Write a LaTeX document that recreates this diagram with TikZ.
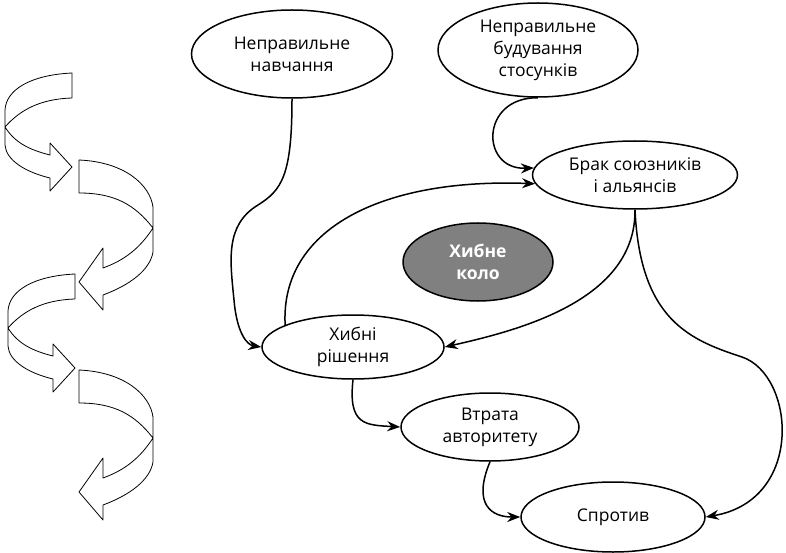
\documentclass[tikz,border=0pt]{standalone}
\usepackage{fontspec}
\setmainfont{Open Sans}
\usepackage{tikz}
\usetikzlibrary{arrows.meta}
\usetikzlibrary{shapes.geometric}
\definecolor{grey-fill}{RGB}{128,128,128}

\begin{document}
\begin{tikzpicture}[x=1pt, y=-1pt, >={Stealth[length=13pt,width=10pt]},
  oval/.style={ellipse, draw, line width=1.5pt, align=center, inner sep=0pt},
  link/.style={->, line width=1.5pt},
  turn/.style={draw, line width=0.8pt, fill=white, line join=round}]
\fontsize{17.5}{22}\selectfont
\useasboundingbox (0,0) rectangle (786,553);

% the twisting arrows on the left
\foreach \dx/\dy in {0/0, 3/201} {
\draw [turn, shift={(\dx,\dy)}] (72,73) .. controls (30,75) and (6,90) .. (5,110) -- (5,145)
  .. controls (6,160) and (25,172) .. (50,178) -- (50,191) -- (72,167) -- (50,143) -- (50,155)
  .. controls (30,150) and (15,143) .. (5,127) .. controls (20,110) and (40,99) .. (72,98) -- cycle;
}
\foreach \dy in {0, 210} {
\draw [turn, shift={(0,\dy)}] (79,160) .. controls (125,162) and (150,185) .. (153,207) -- (153,252)
  .. controls (150,270) and (130,285) .. (103,295) -- (103,310) -- (79,282) -- (103,248) -- (103,268)
  .. controls (125,260) and (140,248) .. (153,228) .. controls (135,205) and (115,193) .. (79,193) -- cycle;
}

% the circle of causes
\node [oval, minimum width=201, minimum height=88] (ntrain) at (292,54) {Неправильне\\навчання};
\node [oval, minimum width=200, minimum height=94] (nrel) at (538,50) {Неправильне\\будування\\стосунків};
\node [oval, minimum width=205, minimum height=68] (lack) at (635,175) {Брак союзників\\і альянсів};
\node [oval, fill=grey-fill, text=white, font=\bfseries, minimum width=150, minimum height=78] (vicious) at (478,262) {Хибне\\коло};
\node [oval, minimum width=182, minimum height=64] (badsol) at (353,347) {Хибні\\рішення};
\node [oval, minimum width=178, minimum height=68] (authority) at (490,427) {Втрата\\авторитету};
\node [oval, minimum width=184, minimum height=70] (resist) at (613,517) {Спротив};

\draw [link] (ntrain.south) .. controls (292,175) and (282,190) .. (258,205)
  .. controls (225,225) and (230,260) .. (234,300) .. controls (237,335) and (248,345) .. (badsol.west);
\draw [link] (badsol.162) .. controls (280,230) and (380,178) .. (lack.185);
\draw [link] (nrel.south) .. controls (480,97) and (480,170) .. (lack.176);
\draw [link] (lack.south) .. controls (636,300) and (520,330) .. (badsol.east);
\draw [link] (lack.south) .. controls (640,320) and (690,340) .. (742,357)
  .. controls (795,375) and (805,500) .. (resist.east);
\draw [link] (badsol.south) .. controls (348,425) and (365,425) .. (authority.west);
\draw [link] (authority.south) .. controls (472,505) and (492,517) .. (resist.west);

\end{tikzpicture}
\end{document}
